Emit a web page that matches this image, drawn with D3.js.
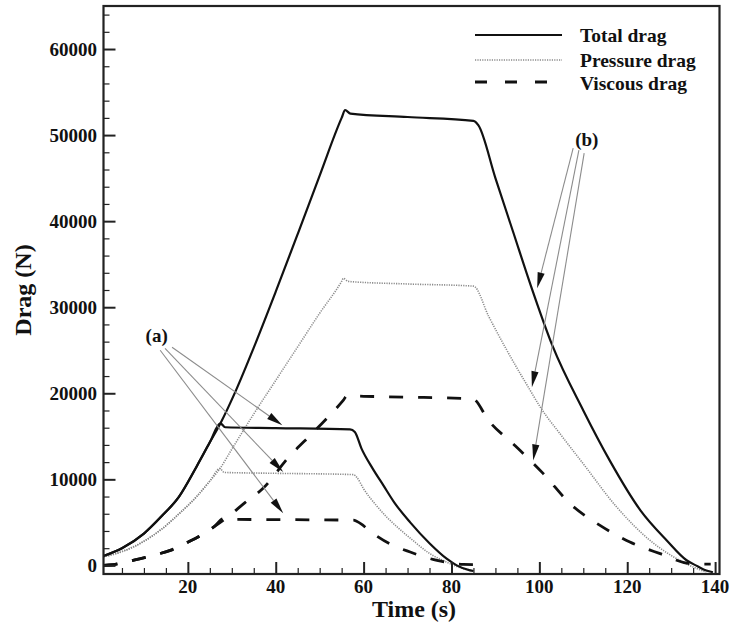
<!DOCTYPE html>
<html>
<head>
<meta charset="utf-8">
<script src="https://cdn.jsdelivr.net/npm/d3@7/dist/d3.min.js"></script>
<style>
  html, body { margin: 0; padding: 0; background: #fff; }
  svg text { font-family: "Liberation Serif", "Times New Roman", serif; font-weight: bold; fill: #111; }
</style>
</head>
<body>
<svg id="chart" width="733" height="624"></svg>
<script>
// ---------- DATA ----------
// case (b): long run
const totalB_t = [0.8, 5, 10, 14, 18, 22, 25, 27.4, 31, 35, 40, 45, 50, 55, 55.8, 57, 70, 85, 86.1, 90, 94, 98, 103, 110, 116, 123, 129, 133.5, 136, 138, 139.5];
const totalB_v = [1100, 2000, 3700, 5700, 8000, 11500, 14300, 16500, 20400, 25300, 31800, 38500, 45300, 52000, 52900, 52500, 52100, 51650, 51150, 45000, 38800, 32600, 25500, 18000, 12200, 6400, 2900, 600, -100, -600, -800];

const pressureB_t = [0.8, 5, 10, 14, 18, 22, 25, 27.3, 30, 35, 40, 45, 50, 55, 55.4, 56.5, 70, 85, 88.5, 92.6, 97.9, 100.2, 105, 110, 117.6, 125.2, 132.7, 136, 138];
const pressureB_v = [1000, 1600, 2800, 4200, 6000, 8000, 9800, 11250, 13500, 17600, 21500, 25400, 29300, 33000, 33350, 33000, 32700, 32450, 28900, 25000, 20350, 18400, 15100, 11800, 6780, 2900, 380, -400, -780];

const viscousB_t = [0.8, 3, 6, 9, 12, 16, 20, 23, 26, 29, 33, 37, 43, 49, 55.4, 56.2, 60, 70, 83.5, 85, 88.4, 94.5, 100.9, 107, 113.8, 120.6, 127.5, 134.3, 137, 139];
const viscousB_v = [0, 80, 400, 750, 1150, 1750, 2700, 3500, 4500, 5600, 7300, 8900, 12600, 15700, 19200, 19700, 19650, 19550, 19380, 19300, 16860, 13900, 10660, 7170, 4650, 2710, 1360, 200, 150, 150];

// case (a): short run
const totalA_t = [0.8, 5, 10, 14, 18, 22, 25, 27.4, 28.5, 40, 56.9, 58, 59.5, 62, 64.5, 67, 70.6, 75.1, 78.9, 81.2, 84.2, 85];
const totalA_v = [1100, 2000, 3700, 5700, 8000, 11500, 14300, 16500, 16050, 15950, 15800, 15500, 13600, 11300, 9300, 7300, 5000, 2520, 780, 0, -580, -650];

const pressureA_t = [0.8, 5, 10, 14, 18, 22, 25, 27.3, 28.3, 40, 57.7, 58.5, 60, 63, 65.3, 68, 71, 75.1, 78.9, 82.7, 85];
const pressureA_v = [1000, 1600, 2800, 4200, 6000, 8000, 9800, 11250, 10800, 10700, 10550, 10200, 8900, 6900, 5600, 4300, 3000, 1360, 380, -380, -600];

const viscousA_t = [0.8, 3, 6, 9, 12, 16, 20, 23, 26, 28.1, 28.8, 40, 57.7, 58.5, 62.2, 66, 70.6, 76.7, 82.7, 85];
const viscousA_v = [0, 80, 400, 750, 1150, 1750, 2700, 3500, 4500, 5430, 5350, 5320, 5250, 5100, 3690, 2500, 1550, 580, 120, 100];

// axes
const xMajorTicks = [20, 40, 60, 80, 100, 120, 140];
const xMinorTicks = [5, 10, 15, 25, 30, 35, 45, 50, 55, 65, 70, 75, 85, 90, 95, 105, 110, 115, 125, 130, 135];
const yMajorTicks = [0, 10000, 20000, 30000, 40000, 50000, 60000];
const yMinorTicks = [2000, 4000, 6000, 8000, 12000, 14000, 16000, 18000, 22000, 24000, 26000, 28000, 32000, 34000, 36000, 38000, 42000, 44000, 46000, 48000, 52000, 54000, 56000, 58000, 62000, 64000];

const legendLabels = ["Total drag", "Pressure drag", "Viscous drag"];

// annotations (data coords)
const annoA_label = [12.9, 26700];
const annoA_from = [[16.4, 25350], [14.8, 25230], [13.7, 25000]];
const annoA_to = [[41.5, 16280], [41.7, 10850], [41.7, 6050]];
const annoB_label = [110.8, 49400];
const annoB_from = [[107.7, 48490], [109.0, 48260], [110.2, 47900]];
const annoB_to = [[99.5, 32200], [98.3, 20700], [98.6, 12200]];

// ---------- DRAW ----------
const svg = d3.select("#chart");
const x = d3.scaleLinear().domain([0.8, 141]).range([103.5, 719.5]);
const y = d3.scaleLinear().domain([-1000, 65000]).range([574, 6]);

const line = d3.line().x(d => x(d[0])).y(d => y(d[1])).curve(d3.curveMonotoneX);
const zip = (t, v) => t.map((ti, i) => [ti, v[i]]);

const styles = {
  total: { stroke: "#111", width: 2.2, dash: null },
  pressure: { stroke: "#8a8a8a", width: 1.6, dash: "1.2,1.2" },
  viscous: { stroke: "#111", width: 2.8, dash: "14,15" }
};

const series = [
  { d: zip(pressureB_t, pressureB_v), s: styles.pressure },
  { d: zip(pressureA_t, pressureA_v), s: styles.pressure },
  { d: zip(viscousB_t, viscousB_v), s: styles.viscous },
  { d: zip(viscousA_t, viscousA_v), s: styles.viscous },
  { d: zip(totalB_t, totalB_v), s: styles.total },
  { d: zip(totalA_t, totalA_v), s: styles.total }
];

const plot = svg.append("g");
series.forEach(sr => {
  plot.append("path")
    .attr("d", line(sr.d))
    .attr("fill", "none")
    .attr("stroke", sr.s.stroke)
    .attr("stroke-width", sr.s.width)
    .attr("stroke-linejoin", "round")
    .attr("stroke-dasharray", sr.s.dash);
});

// frame
svg.append("rect")
  .attr("x", x(0.8)).attr("y", y(65000))
  .attr("width", x(141) - x(0.8)).attr("height", y(-1000) - y(65000))
  .attr("fill", "none").attr("stroke", "#222").attr("stroke-width", 2.2);

// x axis ticks (inward)
const xAxisMajor = d3.axisTop(x).tickValues(xMajorTicks).tickSize(12).tickFormat("");
const xAxisMinor = d3.axisTop(x).tickValues(xMinorTicks).tickSize(6).tickFormat("");
[xAxisMajor, xAxisMinor].forEach((ax, i) => {
  const g = svg.append("g").attr("transform", `translate(0,${y(-1000)})`).call(ax);
  g.select(".domain").remove();
  g.selectAll("line").attr("stroke", "#222").attr("stroke-width", i === 0 ? 2 : 1.2);
});
// x labels
svg.append("g").selectAll("text").data(xMajorTicks).join("text")
  .attr("x", d => x(d)).attr("y", 593)
  .attr("text-anchor", "middle").attr("font-size", 19)
  .text(d => d);

// y axis ticks (inward)
const yAxisMajor = d3.axisRight(y).tickValues(yMajorTicks).tickSize(12).tickFormat("");
const yAxisMinor = d3.axisRight(y).tickValues(yMinorTicks).tickSize(6).tickFormat("");
[yAxisMajor, yAxisMinor].forEach((ax, i) => {
  const g = svg.append("g").attr("transform", `translate(${x(0.8)},0)`).call(ax);
  g.select(".domain").remove();
  g.selectAll("line").attr("stroke", "#222").attr("stroke-width", i === 0 ? 2 : 1.2);
});
svg.append("g").selectAll("text").data(yMajorTicks).join("text")
  .attr("x", 97).attr("y", d => y(d) + 7)
  .attr("text-anchor", "end").attr("font-size", 19)
  .text(d => d);

// axis titles
svg.append("text").attr("x", 414).attr("y", 617).attr("text-anchor", "middle")
  .attr("font-size", 24).text("Time (s)");
svg.append("text").attr("transform", "translate(31,290) rotate(-90)")
  .attr("text-anchor", "middle").attr("font-size", 24).text("Drag (N)");

// legend
const legStyles = [styles.total, styles.pressure, styles.viscous];
const legLineY = [35, 60, 82];
const legTextY = [41.5, 66.5, 90];
legendLabels.forEach((lab, i) => {
  const s = legStyles[i];
  svg.append("line").attr("x1", 475).attr("x2", 562).attr("y1", legLineY[i]).attr("y2", legLineY[i])
    .attr("stroke", s.stroke).attr("stroke-width", s.width)
    .attr("stroke-dasharray", i === 2 ? "12,18" : s.dash);
  svg.append("text").attr("x", 580).attr("y", legTextY[i]).attr("font-size", 19.5).text(lab);
});

// annotations
function arrow(from, to) {
  const x1 = x(from[0]), y1 = y(from[1]), x2 = x(to[0]), y2 = y(to[1]);
  const dx = x2 - x1, dy = y2 - y1, L = Math.hypot(dx, dy);
  const ux = dx / L, uy = dy / L;
  const hl = 16, hw = 3.6;
  const bx = x2 - ux * hl, by = y2 - uy * hl;
  svg.append("line").attr("x1", x1).attr("y1", y1).attr("x2", bx).attr("y2", by)
    .attr("stroke", "#8c8c8c").attr("stroke-width", 1.1);
  svg.append("polygon")
    .attr("points", [[x2, y2], [bx - uy * hw, by + ux * hw], [bx + uy * hw, by - ux * hw]].map(p => p.join(",")).join(" "))
    .attr("fill", "#111");
}
annoA_from.forEach((f, i) => arrow(f, annoA_to[i]));
annoB_from.forEach((f, i) => arrow(f, annoB_to[i]));
svg.append("text").attr("x", x(annoA_label[0])).attr("y", y(annoA_label[1]) + 6)
  .attr("text-anchor", "middle").attr("font-size", 19).text("(a)");
svg.append("text").attr("x", x(annoB_label[0])).attr("y", y(annoB_label[1]) + 6)
  .attr("text-anchor", "middle").attr("font-size", 19).text("(b)");
</script>
</body>
</html>
